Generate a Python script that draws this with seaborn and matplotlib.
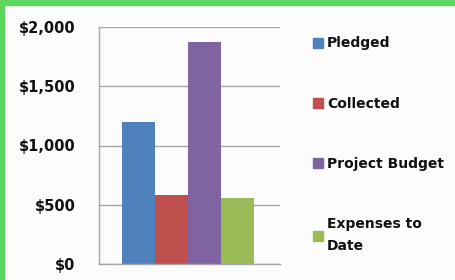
import pandas as pd
import matplotlib.pyplot as plt
import seaborn as sns
from matplotlib.patches import Rectangle

# data
series = ['Pledged', 'Collected', 'Project Budget', 'Expenses to\nDate']
amounts = [1200, 585, 1870, 555]
colors = ['#4f81bd', '#c0504d', '#8064a2', '#9bbb59']
yticks = [0, 500, 1000, 1500, 2000]
ytick_labels = ['$0', '$500', '$1,000', '$1,500', '$2,000']

sns.set_theme(style='white')
plt.rcParams['font.family'] = ['DejaVu Sans']
plt.rcParams['font.weight'] = 'bold'
plt.rcParams['text.color'] = '#111111'
plt.rcParams['ytick.color'] = '#111111'

df = pd.DataFrame({'group': ['Q'] * len(series), 'series': series, 'amount': amounts})

fig = plt.figure(figsize=(4.56, 2.80), dpi=100, facecolor='#fcfcfc')
ax = fig.add_axes([99 / 456, 16 / 280, 181 / 456, 237 / 280])
ax.set_facecolor('#fcfcfc')

sns.barplot(data=df, x='group', y='amount', hue='series', hue_order=series,
            palette=colors, width=0.73, gap=0, saturation=1, linewidth=0,
            legend=False, ax=ax)

ax.set_xlim(-0.49, 0.51)
ax.set_ylim(0, 2000)
ax.set_yticks(yticks)
ax.set_yticklabels(ytick_labels, fontsize=10.5, fontweight='bold')
ax.tick_params(axis='y', length=0, pad=17)
ax.set_xticks([])
ax.set_xlabel('')
ax.set_ylabel('')
ax.yaxis.grid(True, color='#a6a6a6', linewidth=1)
ax.set_axisbelow(True)
for s in ['top', 'right']:
    ax.spines[s].set_visible(False)
for s in ['left', 'bottom']:
    ax.spines[s].set_color('#a6a6a6')
    ax.spines[s].set_linewidth(1)

# legend to the right
handles = [Rectangle((0, 0), 1, 1, color=c) for c in colors]
leg = fig.legend(handles, series, loc='upper left', bbox_to_anchor=(300 / 456, 1 - 24 / 280),
                 frameon=False, handlelength=0.75, handleheight=0.75, handletextpad=0.3,
                 labelspacing=3.33, prop={'size': 10, 'weight': 'bold'})
for t in leg.get_texts():
    t.set_linespacing(1.75)

# green border on top and left
fig.patches.append(Rectangle((0, 1 - 5 / 280), 1, 5 / 280, transform=fig.transFigure,
                             color='#5dd65d', zorder=10))
fig.patches.append(Rectangle((0, 0), 4 / 456, 1, transform=fig.transFigure,
                             color='#5dd65d', zorder=10))

fig.savefig('out.png', dpi=100, facecolor=fig.get_facecolor())
